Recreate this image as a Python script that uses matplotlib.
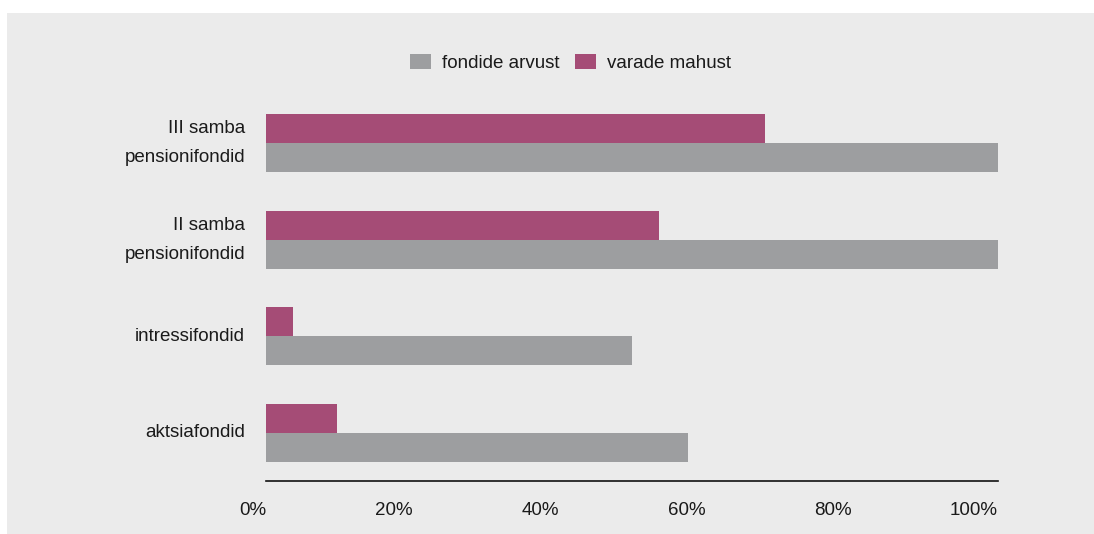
import matplotlib.pyplot as plt
from matplotlib.patches import Rectangle
import numpy as np

plt.rcParams['font.family'] = ['Liberation Sans', 'DejaVu Sans']

# categories from bottom to top
categories = ["aktsiafondid", "intressifondid", "II samba\npensionifondid", "III samba\npensionifondid"]
fondide_arvust = [57.7, 50.0, 100.0, 100.0]
varade_mahust = [9.7, 3.7, 53.7, 68.2]
x_ticks = [0, 20, 40, 60, 80, 100]
x_tick_labels = ["0%", "20%", "40%", "60%", "80%", "100%"]

GRAY = "#9d9ea0"
MAGENTA = "#a54c76"
BG = "#ebebeb"
TXT = "#1a1a1a"
FS = 13.5

W, H = 1094, 534
fig = plt.figure(figsize=(W / 100, H / 100), dpi=100, facecolor="white")
fig.patches.append(Rectangle((7 / W, 0), 1 - 7 / W, (H - 13) / H,
                             transform=fig.transFigure, facecolor=BG,
                             edgecolor="none", zorder=-10))

ax = fig.add_axes([266 / W, (H - 481) / H, (998 - 266) / W, (481 - 94.7) / H])
ax.set_facecolor("none")

y = np.arange(len(categories))
h = 0.3
ax.barh(y - h / 2, fondide_arvust, height=h, color=GRAY, label="fondide arvust")
ax.barh(y + h / 2, varade_mahust, height=h, color=MAGENTA, label="varade mahust")

ax.set_xlim(0, 100)
ax.set_ylim(-0.5, len(categories) - 0.5)

for s in ["top", "right", "left"]:
    ax.spines[s].set_visible(False)
ax.spines["bottom"].set_linewidth(1.2)
ax.spines["bottom"].set_color("#111111")

ax.set_yticks([])
ax.set_xticks(x_ticks)
ax.set_xticklabels(x_tick_labels, ha="right", fontsize=FS, color=TXT)
ax.tick_params(axis="x", length=0, pad=15)

# category labels, one text per line, each line beside its bar
tr = ax.get_yaxis_transform()
for yi, lab in zip(y, categories):
    lines = lab.split("\n")
    if len(lines) == 1:
        pos = [yi]
    else:
        pos = [yi + h / 2, yi - h / 2]
    for ln, p in zip(lines, pos):
        ax.text(-21 / 732, p, ln, transform=tr, ha="right", va="center",
                fontsize=FS, color=TXT)

fig.legend(loc="center", bbox_to_anchor=(570.5 / W, (H - 63) / H), ncol=2,
           frameon=False, fontsize=FS, handlelength=1.12, handleheight=0.8,
           handletextpad=0.6, columnspacing=0.85, borderpad=0,
           labelcolor=TXT)

fig.savefig("out.png", dpi=100, facecolor="white")
